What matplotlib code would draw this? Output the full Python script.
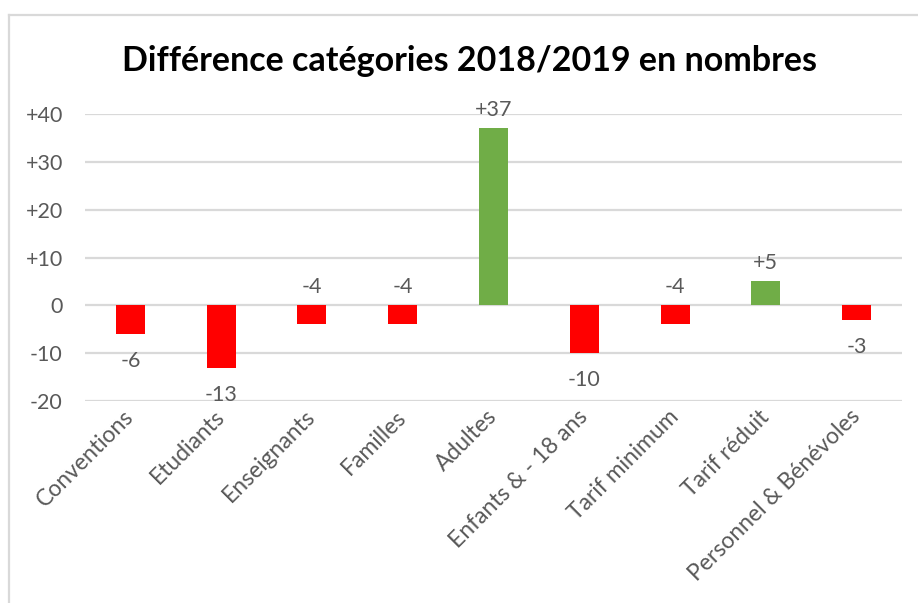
import numpy as np
import matplotlib.pyplot as plt
from matplotlib.lines import Line2D

### Data ###
categories = ['Conventions', 'Etudiants', 'Enseignants', 'Familles', 'Adultes',
              'Enfants & - 18 ans', 'Tarif minimum', 'Tarif réduit',
              'Personnel & Bénévoles']
differences = [-6, -13, -4, -4, 37, -10, -4, 5, -3]
y_ticks = [-20, -10, 0, 10, 20, 30, 40]

# label drawn above the bar end (True) or below it (False)
label_above = [False, False, True, True, True, False, True, True, False]

### Style ###
RED = '#FF0000'
GREEN = '#70AD47'
GRID = '#D9D9D9'
TEXT = '#595959'
plt.rcParams['font.family'] = ['Lato', 'DejaVu Sans']

fig = plt.figure(figsize=(9.18, 6.03), dpi=100)
ax = fig.add_axes([85 / 918, 1 - 401 / 603, 817 / 918, 287 / 603])

x = np.arange(len(categories))
colors = [GREEN if v > 0 else RED for v in differences]
ax.bar(x, differences, width=0.32, color=colors, zorder=3)

ax.set_xlim(-0.5, len(categories) - 0.5)
ax.set_ylim(-20, 40)
ax.set_yticks(y_ticks)
ax.set_yticklabels([f'+{t}' if t > 0 else f'{t}' for t in y_ticks])
ax.yaxis.grid(True, color=GRID, linewidth=1.6, zorder=0)
ax.set_axisbelow(True)
for s in ax.spines.values():
    s.set_visible(False)
ax.tick_params(axis='y', length=0, pad=16, labelsize=15.5, labelcolor=TEXT)
ax.tick_params(axis='x', length=0, pad=9, labelsize=16.5, labelcolor=TEXT)

ax.set_xticks(x)
ax.set_xticklabels(categories, rotation=45, ha='right', va='center',
                   rotation_mode='anchor')

# data labels
for xi, v, above in zip(x, differences, label_above):
    txt = f'+{v}' if v > 0 else f'{v}'
    if above:
        y0 = max(v, 0)
        off = 13
    else:
        y0 = v
        off = -19.5
    ax.annotate(txt, (xi, y0), xytext=(0, off), textcoords='offset points',
                ha='center', va='center', fontsize=15.5, color=TEXT, zorder=4)

fig.text(470 / 918, 1 - 61 / 603, 'Différence catégories 2018/2019 en nombres',
         ha='center', va='center', fontsize=24.5, fontweight='bold', color='black')

# chart frame (top and left edges visible)
fig.add_artist(Line2D([8.5 / 918, 8.5 / 918], [0, 1 - 15 / 603],
                      color=GRID, linewidth=1.6, transform=fig.transFigure))
fig.add_artist(Line2D([8.5 / 918, 1], [1 - 15 / 603, 1 - 15 / 603],
                      color=GRID, linewidth=1.6, transform=fig.transFigure))

fig.savefig('out.png', dpi=100)
